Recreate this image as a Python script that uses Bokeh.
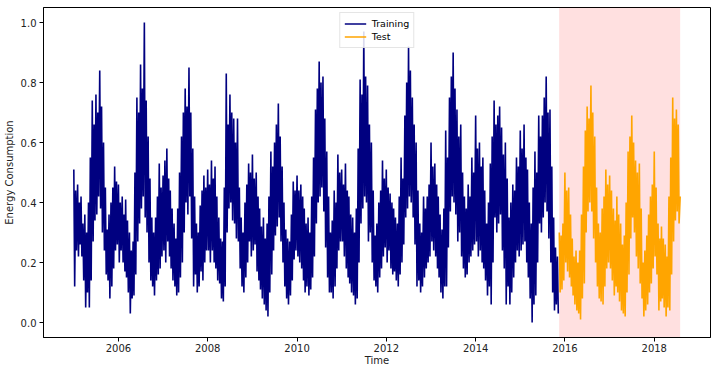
import pandas as pd
from bokeh.plotting import figure
from bokeh.models import (Range1d, FixedTicker, DatetimeTickFormatter, BoxAnnotation,
                          Legend, LegendItem, ColumnDataSource, NumeralTickFormatter)
from bokeh.embed import file_html
from bokeh.resources import INLINE

# ---- data: normalised energy consumption ----
# For every month (2005-01 .. 2018-07): peak and trough of the first half,
# peak and trough of the second half. Last reading on 2018-08-01.
high_1 = [
    0.51, 0.46, 0.42, 0.36, 0.40, 0.74, 0.76, 0.84, 0.60, 0.31, 0.40, 0.52,  # 2005
    0.46, 0.42, 0.41, 0.30, 0.27, 0.75, 0.86, 1.00, 0.62, 0.35, 0.35, 0.53,  # 2006
    0.49, 0.58, 0.44, 0.33, 0.38, 0.62, 0.78, 0.85, 0.58, 0.33, 0.39, 0.49,  # 2007
    0.51, 0.54, 0.52, 0.35, 0.27, 0.83, 0.76, 0.68, 0.68, 0.35, 0.40, 0.53,  # 2008
    0.56, 0.50, 0.38, 0.35, 0.33, 0.57, 0.60, 0.73, 0.52, 0.31, 0.27, 0.47,  # 2009
    0.49, 0.46, 0.38, 0.35, 0.42, 0.71, 0.87, 0.82, 0.57, 0.30, 0.44, 0.56,  # 2010
    0.51, 0.53, 0.42, 0.35, 0.38, 0.81, 0.97, 0.79, 0.60, 0.29, 0.40, 0.54,  # 2011
    0.51, 0.43, 0.38, 0.33, 0.55, 0.69, 0.92, 0.75, 0.60, 0.33, 0.42, 0.42,  # 2012
    0.60, 0.53, 0.42, 0.31, 0.64, 0.75, 0.90, 0.71, 0.66, 0.42, 0.46, 0.55,  # 2013
    0.69, 0.60, 0.55, 0.33, 0.53, 0.74, 0.69, 0.65, 0.60, 0.35, 0.46, 0.55,  # 2014
    0.64, 0.66, 0.51, 0.33, 0.57, 0.69, 0.69, 0.82, 0.71, 0.35, 0.22, 0.29,  # 2015
    0.50, 0.45, 0.28, 0.24, 0.24, 0.52, 0.72, 0.79, 0.62, 0.33, 0.38, 0.51,  # 2016
    0.49, 0.38, 0.42, 0.33, 0.29, 0.57, 0.69, 0.54, 0.53, 0.20, 0.29, 0.42,  # 2017
    0.57, 0.33, 0.32, 0.26, 0.42, 0.75, 0.71,                                # 2018
]
low_1 = [
    0.12, 0.22, 0.22, 0.05, 0.05, 0.27, 0.36, 0.38, 0.24, 0.14, 0.12, 0.24,  # 2005
    0.20, 0.20, 0.15, 0.03, 0.09, 0.27, 0.38, 0.35, 0.20, 0.12, 0.14, 0.18,  # 2006
    0.24, 0.27, 0.18, 0.12, 0.10, 0.20, 0.40, 0.42, 0.12, 0.10, 0.17, 0.20,  # 2007
    0.24, 0.24, 0.18, 0.13, 0.07, 0.30, 0.40, 0.33, 0.27, 0.12, 0.15, 0.27,  # 2008
    0.24, 0.17, 0.11, 0.06, 0.02, 0.16, 0.29, 0.35, 0.20, 0.08, 0.09, 0.21,  # 2009
    0.22, 0.18, 0.10, 0.09, 0.15, 0.33, 0.42, 0.37, 0.15, 0.10, 0.12, 0.24,  # 2010
    0.27, 0.18, 0.13, 0.09, 0.08, 0.33, 0.42, 0.27, 0.20, 0.12, 0.15, 0.22,  # 2011
    0.20, 0.18, 0.17, 0.12, 0.20, 0.35, 0.42, 0.35, 0.12, 0.10, 0.15, 0.20,  # 2012
    0.27, 0.22, 0.15, 0.08, 0.12, 0.37, 0.40, 0.27, 0.22, 0.15, 0.20, 0.24,  # 2013
    0.27, 0.24, 0.18, 0.09, 0.06, 0.35, 0.33, 0.24, 0.06, 0.06, 0.15, 0.24,  # 2014
    0.24, 0.27, 0.15, 0.00, 0.09, 0.33, 0.35, 0.37, 0.20, 0.04, 0.03, 0.11,  # 2015
    0.20, 0.15, 0.09, 0.04, 0.01, 0.13, 0.37, 0.37, 0.20, 0.08, 0.06, 0.18,  # 2016
    0.18, 0.09, 0.10, 0.04, 0.02, 0.16, 0.35, 0.22, 0.13, 0.02, 0.06, 0.13,  # 2017
    0.22, 0.04, 0.08, 0.02, 0.04, 0.27, 0.37,                                # 2018
]
high_2 = [
    0.44, 0.40, 0.33, 0.30, 0.55, 0.66, 0.70, 0.72, 0.45, 0.36, 0.45, 0.47,  # 2005
    0.40, 0.36, 0.34, 0.24, 0.50, 0.70, 0.78, 0.74, 0.48, 0.30, 0.42, 0.45,  # 2006
    0.54, 0.48, 0.38, 0.28, 0.50, 0.70, 0.72, 0.70, 0.42, 0.30, 0.44, 0.45,  # 2007
    0.46, 0.48, 0.42, 0.28, 0.45, 0.66, 0.70, 0.60, 0.45, 0.30, 0.46, 0.50,  # 2008
    0.48, 0.42, 0.32, 0.28, 0.42, 0.52, 0.66, 0.62, 0.40, 0.28, 0.36, 0.44,  # 2009
    0.44, 0.42, 0.33, 0.30, 0.55, 0.78, 0.80, 0.68, 0.42, 0.34, 0.40, 0.50,  # 2010
    0.46, 0.44, 0.36, 0.30, 0.58, 0.76, 0.82, 0.66, 0.44, 0.33, 0.44, 0.48,  # 2011
    0.45, 0.40, 0.35, 0.42, 0.48, 0.80, 0.84, 0.66, 0.44, 0.30, 0.38, 0.46,  # 2012
    0.52, 0.46, 0.36, 0.38, 0.55, 0.82, 0.78, 0.62, 0.50, 0.38, 0.42, 0.50,  # 2013
    0.58, 0.52, 0.44, 0.40, 0.62, 0.66, 0.72, 0.56, 0.48, 0.40, 0.44, 0.52,  # 2014
    0.58, 0.55, 0.40, 0.45, 0.50, 0.62, 0.75, 0.70, 0.52, 0.25, 0.30, 0.33,  # 2015
    0.44, 0.36, 0.22, 0.20, 0.36, 0.64, 0.68, 0.70, 0.45, 0.30, 0.42, 0.46,  # 2016
    0.44, 0.34, 0.36, 0.26, 0.40, 0.62, 0.60, 0.50, 0.38, 0.24, 0.36, 0.46,  # 2017
    0.45, 0.28, 0.28, 0.22, 0.55, 0.68, 0.66,                                # 2018
]
low_2 = [
    0.24, 0.26, 0.14, 0.10, 0.14, 0.34, 0.42, 0.30, 0.16, 0.08, 0.18, 0.26,  # 2005
    0.24, 0.17, 0.10, 0.08, 0.16, 0.33, 0.42, 0.30, 0.14, 0.09, 0.16, 0.22,  # 2006
    0.20, 0.22, 0.14, 0.09, 0.15, 0.30, 0.36, 0.28, 0.16, 0.12, 0.14, 0.24,  # 2007
    0.20, 0.20, 0.14, 0.08, 0.12, 0.38, 0.34, 0.28, 0.18, 0.10, 0.20, 0.22,  # 2008
    0.26, 0.14, 0.08, 0.04, 0.10, 0.24, 0.32, 0.27, 0.12, 0.06, 0.14, 0.24,  # 2009
    0.20, 0.14, 0.12, 0.11, 0.22, 0.40, 0.45, 0.25, 0.10, 0.08, 0.18, 0.27,  # 2010
    0.22, 0.15, 0.10, 0.06, 0.20, 0.38, 0.40, 0.30, 0.14, 0.10, 0.18, 0.25,  # 2011
    0.24, 0.16, 0.14, 0.16, 0.26, 0.38, 0.40, 0.26, 0.14, 0.12, 0.18, 0.22,  # 2012
    0.24, 0.18, 0.10, 0.12, 0.25, 0.42, 0.36, 0.30, 0.18, 0.16, 0.22, 0.26,  # 2013
    0.22, 0.20, 0.14, 0.12, 0.20, 0.30, 0.36, 0.18, 0.12, 0.10, 0.20, 0.22,  # 2014
    0.26, 0.20, 0.08, 0.06, 0.20, 0.30, 0.40, 0.28, 0.10, 0.06, 0.10, 0.14,  # 2015
    0.17, 0.12, 0.06, 0.03, 0.08, 0.30, 0.40, 0.28, 0.12, 0.07, 0.12, 0.20,  # 2016
    0.14, 0.12, 0.07, 0.03, 0.10, 0.28, 0.30, 0.18, 0.08, 0.04, 0.10, 0.18,  # 2017
    0.16, 0.07, 0.05, 0.05, 0.16, 0.34, 0.33,                                # 2018
]
last_value = 0.42
first_month, last_month, data_end = "2005-01-01", "2018-07-01", "2018-08-01"
split_date = "2015-11-15"          # training / test boundary
tick_years = [2006, 2008, 2010, 2012, 2014, 2016, 2018]
y_ticks = [0.0, 0.2, 0.4, 0.6, 0.8, 1.0]

# ---- build the series (four readings per month: days 1, 8, 16, 23) ----
months = pd.date_range(first_month, last_month, freq="MS")
assert len(months) == len(high_1) == len(low_1) == len(high_2) == len(low_2)
dates, vals = [], []
for m, a, b, c, d in zip(months, high_1, low_1, high_2, low_2):
    for off, v in zip((0, 7, 15, 22), (a, b, c, d)):
        dates.append(m + pd.Timedelta(days=off))
        vals.append(v)
dates.append(pd.Timestamp(data_end))
vals.append(last_value)

df = pd.DataFrame({"t": dates, "v": vals})
split = pd.Timestamp(split_date)
train_src = ColumnDataSource(df[df.t < split])
test_src = ColumnDataSource(df[df.t >= split])

def ms(ts):
    return pd.Timestamp(ts).timestamp() * 1000.0

span = ms(data_end) - ms(first_month)
x_range = Range1d(ms(first_month) - 0.05 * span, ms(data_end) + 0.05 * span)

p = figure(width=720, height=377, x_axis_type="datetime", output_backend="svg",
           toolbar_location=None, x_range=x_range, y_range=Range1d(-0.05, 1.05),
           min_border_left=43, min_border_right=10, min_border_top=7, min_border_bottom=40)

p.add_layout(BoxAnnotation(left=ms(split_date), right=ms(data_end), fill_color="red",
                           fill_alpha=0.12, line_color=None, level="underlay"))

r1 = p.line("t", "v", source=train_src, line_color="navy", line_width=1.6)
r2 = p.line("t", "v", source=test_src, line_color="orange", line_width=1.6)

legend = Legend(items=[LegendItem(label="Training", renderers=[r1]),
                       LegendItem(label="Test", renderers=[r2])],
                location="top_center")
legend.label_text_font = "DejaVu Sans"
legend.label_text_font_size = "9.5px"
legend.label_text_color = "black"
legend.glyph_width = 22
legend.glyph_height = 13
legend.label_height = 13
legend.spacing = 0
legend.padding = 4
legend.margin = 5
legend.label_standoff = 6
legend.border_line_color = "#cccccc"
legend.background_fill_alpha = 0.85
p.add_layout(legend)

p.xgrid.visible = False
p.ygrid.visible = False
p.outline_line_color = "black"
p.outline_line_alpha = 1
p.outline_line_width = 1

p.xaxis.ticker = FixedTicker(ticks=[ms(f"{y}-01-01") for y in tick_years])
p.xaxis.formatter = DatetimeTickFormatter(years="%Y", months="%Y", days="%Y")
p.yaxis.ticker = FixedTicker(ticks=y_ticks)
p.yaxis.formatter = NumeralTickFormatter(format="0.0")
p.xaxis.axis_label = "Time"
p.yaxis.axis_label = "Energy Consumption"

for ax in (p.xaxis, p.yaxis):
    ax.axis_label_text_font = "DejaVu Sans"
    ax.axis_label_text_font_style = "normal"
    ax.axis_label_text_font_size = "10px"
    ax.axis_label_text_color = "#222222"
    ax.major_label_text_font = "DejaVu Sans"
    ax.major_label_text_font_size = "10px"
    ax.major_label_text_color = "#222222"
    ax.major_tick_out = 4
    ax.major_tick_in = 0
    ax.minor_tick_line_color = None
    ax.axis_line_color = "black"
    ax.major_tick_line_color = "black"
    ax.major_label_standoff = 3
    ax.axis_label_standoff = 3
p.xaxis.major_label_standoff = 2
p.xaxis.axis_label_standoff = 0

open("out.html", "w").write(file_html(p, INLINE))
